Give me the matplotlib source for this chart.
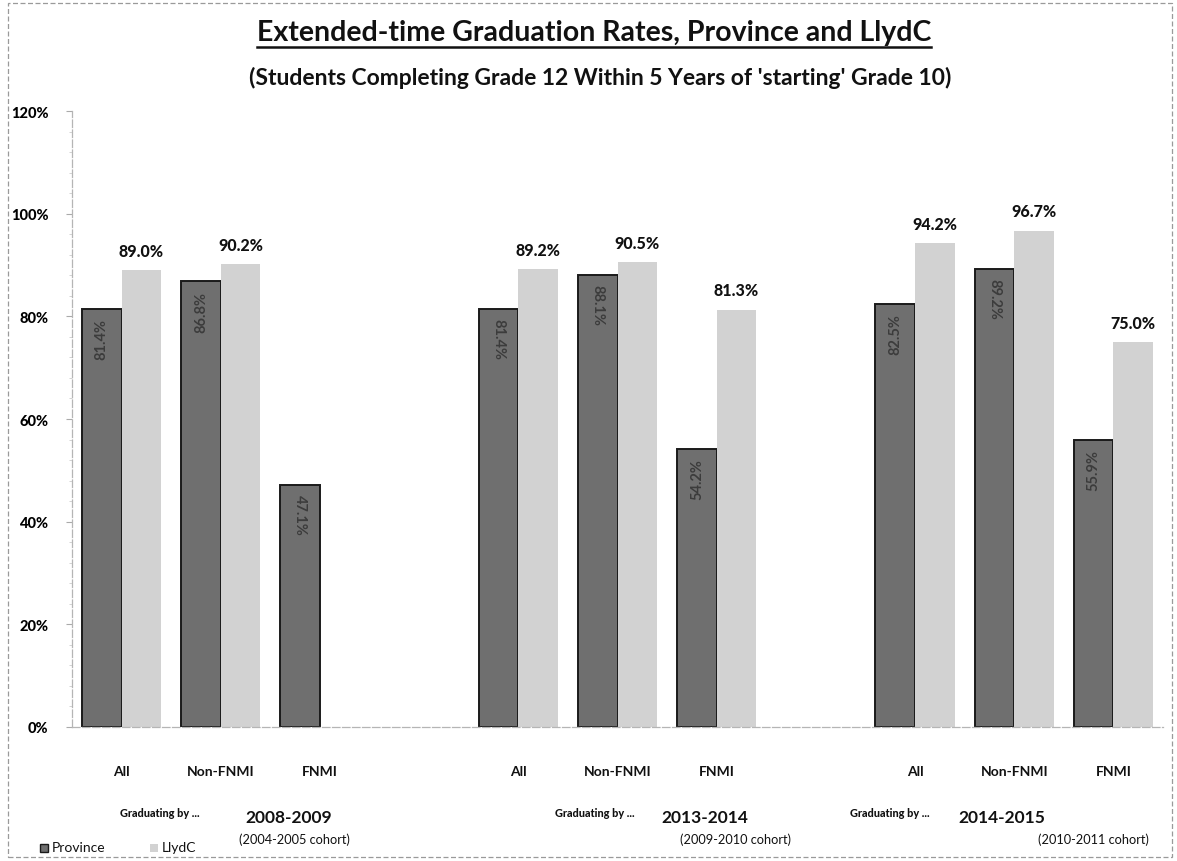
import numpy as np
import matplotlib
matplotlib.use("Agg")
import matplotlib.pyplot as plt
from matplotlib.lines import Line2D
from matplotlib.patches import Rectangle

plt.rcParams['font.family'] = ['Lato', 'DejaVu Sans']

# Data
categories = ["All", "Non-FNMI", "FNMI"]
years = ["2008-2009", "2013-2014", "2014-2015"]
cohorts = ["(2004-2005 cohort)", "(2009-2010 cohort)", "(2010-2011 cohort)"]
province = [81.4, 86.8, 47.1, 81.4, 88.1, 54.2, 82.5, 89.2, 55.9]
llydc = [89.0, 90.2, np.nan, 89.2, 90.5, 81.3, 94.2, 96.7, 75.0]
yticks = [0, 20, 40, 60, 80, 100, 120]

W, H = 1177, 862
fig = plt.figure(figsize=(W / 100, H / 100), dpi=100)
fig.patch.set_facecolor("white")

def fx(px):
    return px / W

def fy(py):
    return 1 - py / H

ax = fig.add_axes([fx(72), fy(728), fx(1163) - fx(72), fy(112) - fy(728)])

# three groups of three categories, separated by one empty slot
slots = np.array([g * 4 + c for g in range(3) for c in range(3)], dtype=float)
bw = 0.4
prov_color = "#6f6f6f"
lly_color = "#d2d2d2"

ax.bar(slots - bw / 2, province, width=bw, color=prov_color,
       edgecolor="#1a1a1a", linewidth=1.4, zorder=2)
lvals = np.array(llydc)
mask = ~np.isnan(lvals)
ax.bar(slots[mask] + bw / 2, lvals[mask], width=bw, color=lly_color,
       edgecolor="none", zorder=2)

rotations = [90, 90, 270, 270, 270, 90, 90, 270, 90]
for x, v, r in zip(slots, province, rotations):
    ax.text(x - bw / 2, v - 1.8, f"{v:.1f}%", rotation=r, ha="center", va="top",
            fontsize=10.5, fontweight="bold", color="#3c3c3c", zorder=3)
for x, v in zip(slots[mask], lvals[mask]):
    ax.text(x + bw / 2, v + 2.2, f"{v:.1f}%", ha="center", va="bottom",
            fontsize=11.5, fontweight="black", color="#111111", zorder=3)

ax.set_xlim(-0.5, 10.5)
ax.set_ylim(0, 120)
ax.set_yticks(yticks)
ax.set_yticklabels([f"{t}%" for t in yticks], fontsize=10.5, fontweight="black")
ax.set_yticks(np.arange(0, 121, 4), minor=True)
ax.tick_params(axis="y", which="major", length=4, color="#aaaaaa", pad=13)
ax.tick_params(axis="y", which="minor", length=2, color="#cccccc")
ax.set_xticks([])
for s in ["top", "right"]:
    ax.spines[s].set_visible(False)
for s in ["left", "bottom"]:
    ax.spines[s].set_color("#b5b5b5")
    ax.spines[s].set_linewidth(0.9)
    ax.spines[s].set_linestyle((0, (6, 2)))

# category labels under each bar pair
for x, lab in zip(slots, categories * 3):
    ax.text(x, -8.5, lab, ha="center", va="center", fontsize=10,
            fontweight="bold", color="#111111")

# group annotations
grad_x = [160, 595, 890]
year_x = [289, 705, 1002]
cohort_x = [294, 735, 1093]
for gx, yx, cx, yr, ch in zip(grad_x, year_x, cohort_x, years, cohorts):
    fig.text(fx(gx), fy(814), "Graduating by ...", ha="center", va="center",
             fontsize=7.8, fontweight="black", color="#111111")
    fig.text(fx(yx), fy(818), yr, ha="center", va="center",
             fontsize=12.5, fontweight="bold", color="#111111")
    fig.text(fx(cx), fy(840), ch, ha="center", va="center",
             fontsize=9.2, color="#111111")

# legend
fig.patches.append(Rectangle((fx(40), fy(853)), fx(8), fy(845) - fy(853),
                             transform=fig.transFigure, facecolor=prov_color,
                             edgecolor="#1a1a1a", linewidth=1))
fig.text(fx(52), fy(848), "Province", ha="left", va="center", fontsize=10,
         color="#111111")
fig.patches.append(Rectangle((fx(150), fy(853)), fx(8), fy(845) - fy(853),
                             transform=fig.transFigure, facecolor=lly_color,
                             edgecolor="none"))
fig.text(fx(162), fy(848), "LlydC", ha="left", va="center", fontsize=10,
         color="#111111")

# titles
title = fig.text(fx(594), fy(33), "Extended-time Graduation Rates, Province and LlydC",
                 ha="center", va="center", fontsize=20.5, fontweight="bold",
                 color="#111111")
fig.text(fx(600), fy(78), "(Students Completing Grade 12 Within 5 Years of 'starting' Grade 10)",
         ha="center", va="center", fontsize=16.5, fontweight="bold", color="#111111")

fig.canvas.draw()
bb = title.get_window_extent(renderer=fig.canvas.get_renderer())
uy = (bb.y0 - 2) / fig.bbox.height
fig.lines.append(Line2D([bb.x0 / fig.bbox.width, bb.x1 / fig.bbox.width], [uy, uy],
                        transform=fig.transFigure, color="#111111", linewidth=1.8))

# outer frame
fig.patches.append(Rectangle((fx(8), fy(858)), fx(1172) - fx(8), fy(4) - fy(858),
                             transform=fig.transFigure, fill=False,
                             edgecolor="#9a9a9a", linewidth=0.9,
                             linestyle=(0, (4, 2))))

fig.savefig("out.png", dpi=100, facecolor="white")
